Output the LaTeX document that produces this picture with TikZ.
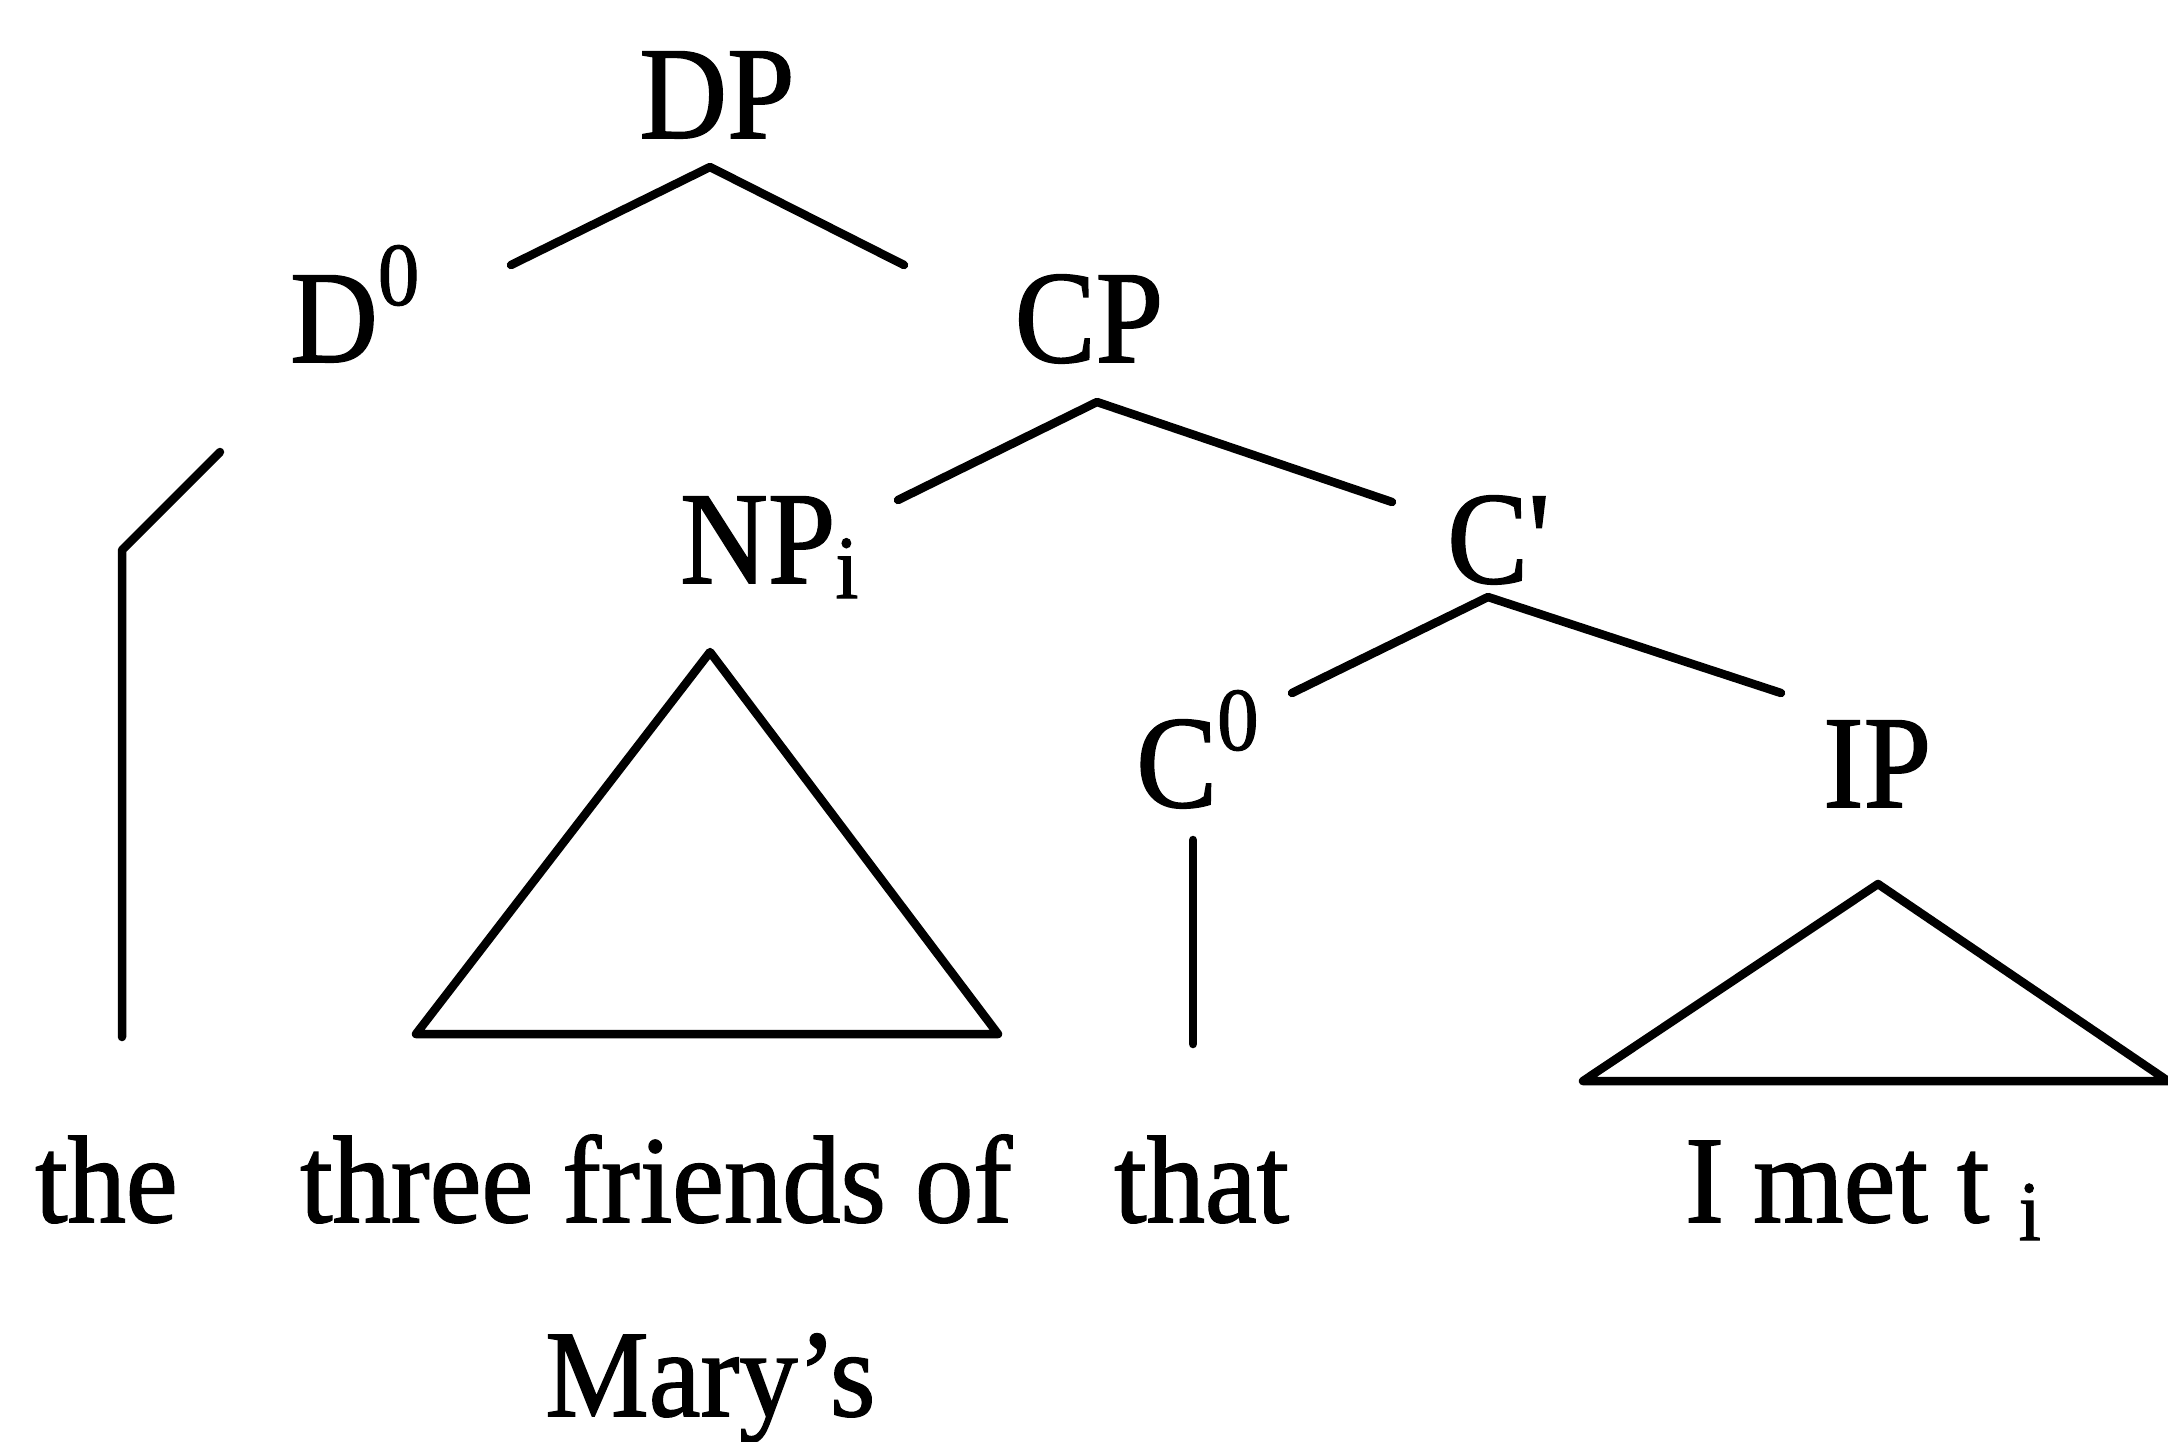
\documentclass[tikz,border=0pt]{standalone}
\usepackage{fontspec}
\setmainfont{Liberation Serif}
\newfontfamily\labfont{Liberation Serif}[FakeStretch=0.92,FakeBold=1.2]
\newfontfamily\wordfont{Liberation Serif}[FakeStretch=0.94,FakeBold=1.2]
\begin{document}
\begin{tikzpicture}[x=1pt,y=-1pt,
  edge/.style={line width=8.5pt, line cap=round, line join=round},
  lbl/.style={anchor=base, inner sep=0pt, font=\labfont\fontsize{132}{140}\selectfont},
  lblw/.style={anchor=base west, inner sep=0pt, font=\labfont\fontsize{132}{140}\selectfont},
  word/.style={anchor=base west, inner sep=0pt, font=\wordfont\fontsize{124}{130}\selectfont}]
\useasboundingbox (0,0) rectangle (2168,1441);
\newcommand{\supz}{\raisebox{57pt}{\fontsize{90}{90}\selectfont 0}}
\newcommand{\subi}[2]{\raisebox{-#1pt}{\fontsize{#2}{#2}\selectfont i}}
% labels
\node[lbl]  (DP)  at (717,138) {DP};
\node[lblw] (D0)  at (290,362) {D\supz};
\node[lbl]  (CP)  at (1089,362) {CP};
\node[lblw] (NPi) at (680,583) {NP\subi{15}{90}};
\node[lblw] (Cb)  at (1447,583) {C\textquotesingle};
\node[lblw] (C0)  at (1136,807) {C\supz};
\node[lblw] (IP)  at (1823,807) {IP};
\node[word] (the)   at (35,1222) {the};
\node[word] (three) at (300,1222) {three friends of};
\node[word] (that)  at (1114,1222) {that};
\node[word] (imet)  at (1685,1222) {I met t \subi{18}{85}};
\node[word] (mary)  at (545,1416) {Mary’s};
% connector points
\coordinate (dpL) at (511,265);
\coordinate (dpA) at (710,167);
\coordinate (dpR) at (904,265);
\coordinate (dT)  at (220,452);
\coordinate (dK)  at (122,550);
\coordinate (dB)  at (122,1037);
\coordinate (cpL) at (898,500);
\coordinate (cpA) at (1097,402);
\coordinate (cpR) at (1392,502);
\coordinate (cbL) at (1292,693);
\coordinate (cbA) at (1488,597);
\coordinate (cbR) at (1781,693);
\coordinate (npA) at (710,652);
\coordinate (npL) at (416,1034);
\coordinate (npR) at (998,1034);
\coordinate (c0T) at (1193,840);
\coordinate (c0B) at (1193,1044);
\coordinate (ipA) at (1878,884);
\coordinate (ipL) at (1583,1081);
\coordinate (ipR) at (2168,1081);
% connectors
\draw[edge] (dpL) -- (dpA) -- (dpR);
\draw[edge] (dT) -- (dK) -- (dB);
\draw[edge] (cpL) -- (cpA) -- (cpR);
\draw[edge] (cbL) -- (cbA) -- (cbR);
\draw[edge] (npA) -- (npL) -- (npR) -- cycle;
\draw[edge] (c0T) -- (c0B);
\draw[edge] (ipA) -- (ipL) -- (ipR) -- cycle;
\end{tikzpicture}
\end{document}
